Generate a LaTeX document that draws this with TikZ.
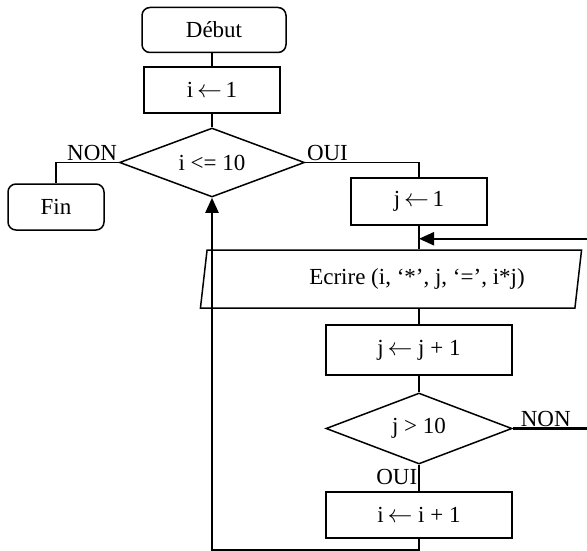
\documentclass[tikz,border=0pt]{standalone}
\usepackage{fontspec}
\setmainfont{Liberation Serif}
\usetikzlibrary{shapes.geometric, arrows.meta, positioning, calc}
\tikzset{
    startstop/.style={rectangle, rounded corners=8pt, minimum height=46pt, inner sep=0pt, text centered, draw=black, line width=1.5pt},
    process/.style  ={rectangle, minimum height=46pt, inner sep=0pt, text centered, draw=black, line width=1.5pt},
    io/.style       ={trapezium, trapezium left angle=77, trapezium right angle=103, trapezium stretches=true, minimum height=58pt, inner sep=0pt, text centered, draw=black, line width=1.5pt},
    decision/.style ={diamond, aspect=2.7, minimum width=186pt, minimum height=70pt, inner sep=0pt, text centered, draw=black, line width=1.5pt},
    flowline/.style ={line width=1.5pt},
    flowarrow/.style={-{Triangle[length=15pt, width=13pt]}, line width=2.2pt},
    answer/.style   ={inner sep=1pt},
}

\begin{document}
\begin{tikzpicture}[x=1pt, y=-1pt, font=\fontsize{23}{27}\selectfont]
    \useasboundingbox (0,0) rectangle (587,551);
    % outer loop
    \node[startstop, minimum width=144pt, minimum height=45pt] (debut) at (214,30) {Début};
    \node[process, minimum width=136pt] (iinit) at (212,90) {i\,$\leftarrow$\,1};
    \node[decision, minimum width=185pt, minimum height=69pt] (icond) at (212,162.5) {i <= 10};
    \node[startstop, minimum width=96pt] (fin) at (56,207) {Fin};
    \draw[flowline] (debut.south -| iinit.north) -- (iinit.north);
    \draw[flowline] (iinit) -- (icond);
    \draw[flowline] (icond.west) node[answer, anchor=south east]{NON} -| (fin.north);
    % inner loop
    \node[process, minimum width=136pt, minimum height=47pt] (jinit) at (419,201.5) {j\,$\leftarrow$\,1};
    \node[io, minimum width=382pt] (ecrire) at (391,279) {\hspace*{52pt}Ecrire (i, ‘*’, j, ‘=’, i*j)};
    \node[process, minimum width=186pt, minimum height=50pt] (jinc) at (419,350) {j\,$\leftarrow$ j + 1};
    \node[decision, minimum height=71pt] (jcond) at (419,428.5) {j > 10};
    \node[process, minimum width=186pt] (iinc) at (419,515) {i\,$\leftarrow$ i + 1};
    \coordinate (jmerge) at ($(jinit.south)+(0,13)$);
    \draw[flowline] (icond.east) node[answer, anchor=south west]{OUI} -| (jinit.north);
    \draw[flowline] (jinit.south) -- (jinit.south |- ecrire.north);
    \draw[flowline] (ecrire.south -| jinc.north) -- (jinc.north);
    \draw[flowline] (jinc) -- (jcond);
    \draw[flowline] (jcond.south) node[answer, anchor=north east, yshift=-3pt]{OUI} -- (iinc.north);
    \draw[flowarrow] (jcond.east) node[answer, anchor=south west, xshift=6pt]{NON} -- ++(100,0) |- (jmerge);
    \draw[flowarrow] (iinc.south) -- ++(0,11) -| (icond.south);
\end{tikzpicture}
\end{document}
